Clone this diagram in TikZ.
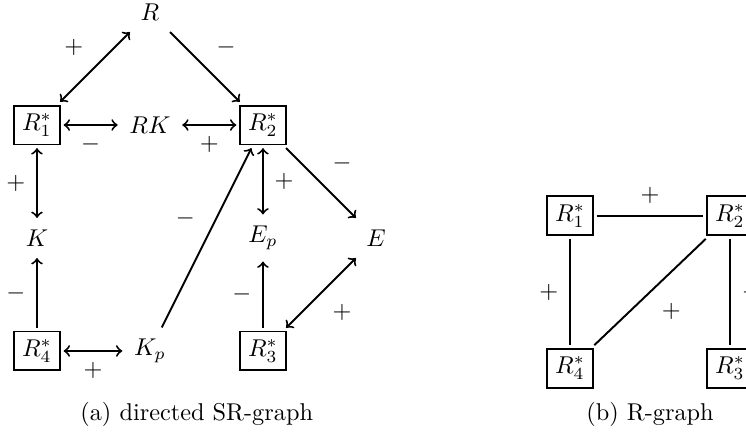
\documentclass[tikz,border=0pt]{standalone}
\usepackage{amssymb}
\usepackage{tikz}
\usetikzlibrary{arrows, positioning}

\begin{document}
\begin{tikzpicture}[thick, every node/.style={outer sep=1.5pt}, box/.style={draw}]
    \useasboundingbox (-0.535, -4.44) rectangle (10.254, 1.808);

    % (a) directed SR-graph
    \node (r) at (1.634, 1.634) {$R$};
    \node[box] (r1) at (0, 0) {$R_1^*$};
    \node (rk) at (1.634, 0) {$RK$};
    \node[box] (r2) at (3.268, 0) {$R_2^*$};
    \node (k) at (0, -1.634) {$K$};
    \node (ep) at (3.268, -1.634) {$E_p$};
    \node (e) at (4.902, -1.634) {$E$};
    \node[box] (r4) at (0, -3.268) {$R_4^*$};
    \node (kp) at (1.634, -3.268) {$K_p$};
    \node[box] (r3) at (3.268, -3.268) {$R_3^*$};

    \draw[<->] (r1) -- node[above left] (la1) {$+$} (r);
    \draw[->] (r) -- node[above right] (la2) {$-$} (r2);
    \draw[<->] (r1) -- node[below] (la3) {$-$} (rk);
    \draw[<->] (rk) -- node[below] (la4) {$+$} (r2);
    \draw[<->] (r1) -- node[left] (la5) {$+$} (k);
    \draw[<->] (r2) -- node[right] (la6) {$+$} (ep);
    \draw[->] (r2) -- node[above right] (la7) {$-$} (e);
    \draw[->] (kp) -- node[above left] (la8) {$-$} (r2);
    \draw[->] (r4) -- node[left] (la9) {$-$} (k);
    \draw[<->] (r4) -- node[below] (la10) {$+$} (kp);
    \draw[->] (r3) -- node[left] (la11) {$-$} (ep);
    \draw[<->] (r3) -- node[below right] (la12) {$+$} (e);

    \node (capa) at (2.31, -4.18) {(a) directed SR-graph};

    % (b) R-graph
    \node[box] (s1) at (7.709, -1.312) {$R_1^*$};
    \node[box] (s2) at (10.023, -1.312) {$R_2^*$};
    \node[box] (s4) at (7.709, -3.519) {$R_4^*$};
    \node[box] (s3) at (10.023, -3.519) {$R_3^*$};

    \draw (s1) -- node[above] (lb1) {$+$} (s2);
    \draw (s1) -- node[left] (lb2) {$+$} (s4);
    \draw (s2) -- node[below right] (lb3) {$+$} (s4);
    \draw (s2) -- node[right] (lb4) {$-$} (s3);

    \node (capb) at (8.866, -4.18) {(b) R-graph};
\end{tikzpicture}
\end{document}
